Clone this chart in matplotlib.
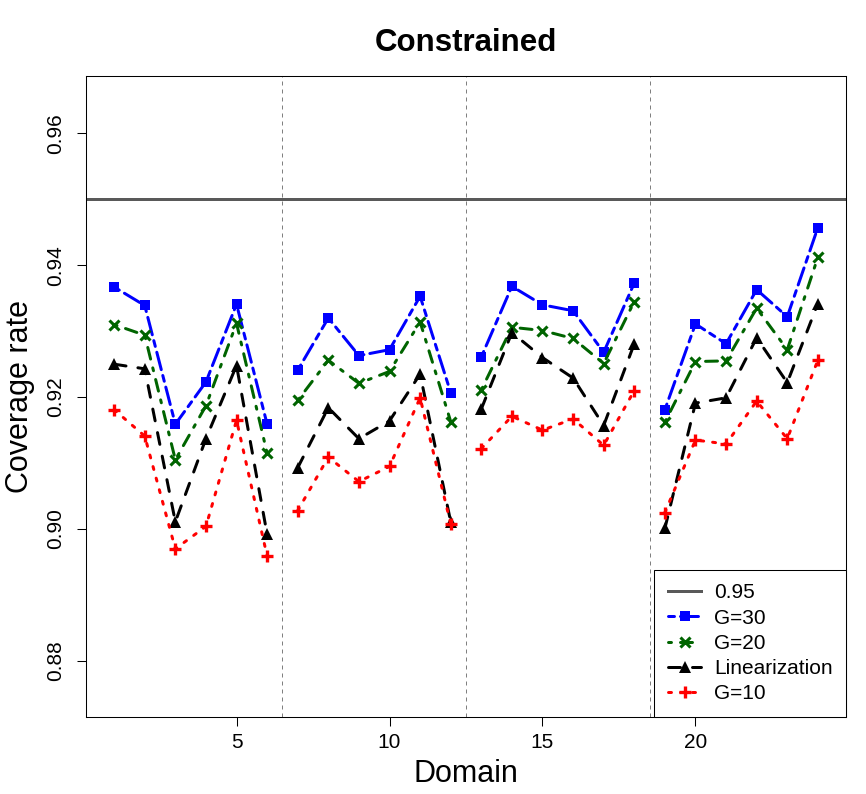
import matplotlib
matplotlib.use("Agg")
import matplotlib.pyplot as plt
import numpy as np

plt.rcParams['font.family'] = ['Liberation Sans', 'DejaVu Sans']

domains = np.arange(1, 25)
g30 = [0.9367, 0.9339, 0.9159, 0.9223, 0.9341, 0.9159,
       0.9241, 0.9320, 0.9263, 0.9272, 0.9353, 0.9207,
       0.9261, 0.9368, 0.9340, 0.9331, 0.9268, 0.9373,
       0.9181, 0.9311, 0.9281, 0.9363, 0.9322, 0.9457]
g20 = [0.9310, 0.9294, 0.9105, 0.9187, 0.9312, 0.9115,
       0.9195, 0.9256, 0.9221, 0.9239, 0.9314, 0.9163,
       0.9211, 0.9306, 0.9301, 0.9289, 0.9251, 0.9345,
       0.9162, 0.9254, 0.9255, 0.9335, 0.9272, 0.9412]
lin = [0.9250, 0.9243, 0.9011, 0.9137, 0.9248, 0.8992,
       0.9093, 0.9184, 0.9137, 0.9164, 0.9235, 0.9011,
       0.9182, 0.9298, 0.9260, 0.9229, 0.9157, 0.9281,
       0.9001, 0.9191, 0.9199, 0.9290, 0.9222, 0.9342]
g10 = [0.9181, 0.9141, 0.8970, 0.9004, 0.9165, 0.8959,
       0.9028, 0.9109, 0.9072, 0.9095, 0.9199, 0.9008,
       0.9122, 0.9171, 0.9150, 0.9167, 0.9127, 0.9210,
       0.9025, 0.9135, 0.9129, 0.9194, 0.9137, 0.9256]
nominal = 0.95
group_breaks = [6.5, 12.5, 18.5]
x_ticks = [5, 10, 15, 20]
y_ticks = [0.88, 0.90, 0.92, 0.94, 0.96]
y_ticklabels = ["0.88", "0.90", "0.92", "0.94", "0.96"]
labels = ["0.95", "G=30", "G=20", "Linearization", "G=10"]

W, H = 866, 794
fig = plt.figure(figsize=(W / 100, H / 100), dpi=100)
ax = fig.add_axes([86 / W, 1 - 717 / H, 760 / W, 641 / H])

LW = 2.16
ref_line = ax.axhline(nominal, color='#595959', lw=LW, zorder=1)
for b in group_breaks:
    ax.axvline(b, color='#808080', lw=0.72, linestyle=(0, (4, 4)), zorder=1)

styles = [
    (g30, dict(color='#0000FF', linestyle=(0, (2, 2, 6, 2)), marker='s', ms=7.2, mew=0)),
    (g20, dict(color='#006400', linestyle=(0, (1, 3, 4, 3)), marker='x', ms=6.5, mew=2.2)),
    (lin, dict(color='black', linestyle=(0, (4, 4)), marker='^', ms=8, mew=0)),
    (g10, dict(color='#FF0000', linestyle=(0, (1, 3)), marker='+', ms=8.5, mew=2.4)),
]
handles = [ref_line]
x = np.asarray(domains)
for vals, st in styles:
    v = np.asarray(vals)
    h = None
    for g in range(4):
        sl = slice(g * 6, g * 6 + 6)
        ln, = ax.plot(x[sl], v[sl], lw=LW, dash_capstyle='round', zorder=3, **st)
        if h is None:
            h = ln
    handles.append(h)

ax.set_xlim(0.08, 24.92)
ax.set_ylim(0.8715, 0.9687)
ax.set_xticks(x_ticks)
ax.set_xticklabels([str(t) for t in x_ticks])
ax.set_yticks(y_ticks)
ax.set_yticklabels(y_ticklabels, rotation=90, va='center')
ax.tick_params(axis='both', direction='out', length=6.5, width=0.75, labelsize=15)
ax.tick_params(axis='x', pad=5)
ax.tick_params(axis='y', pad=8.5)
for s in ax.spines.values():
    s.set_linewidth(0.75)

ax.set_xlabel("Domain", fontsize=22, labelpad=5)
ax.set_ylabel("Coverage rate", fontsize=22, labelpad=8)
ax.set_title("Constrained", fontsize=22.5, fontweight='bold', pad=18)

leg = ax.legend(handles, labels, loc='lower right', borderaxespad=0, fancybox=False,
                edgecolor='black', framealpha=1, fontsize=15, handlelength=1.6,
                handletextpad=0.6, labelspacing=0.3, borderpad=0.65, numpoints=1)
leg.get_frame().set_linewidth(0.75)

fig.savefig("out.png", dpi=100)
